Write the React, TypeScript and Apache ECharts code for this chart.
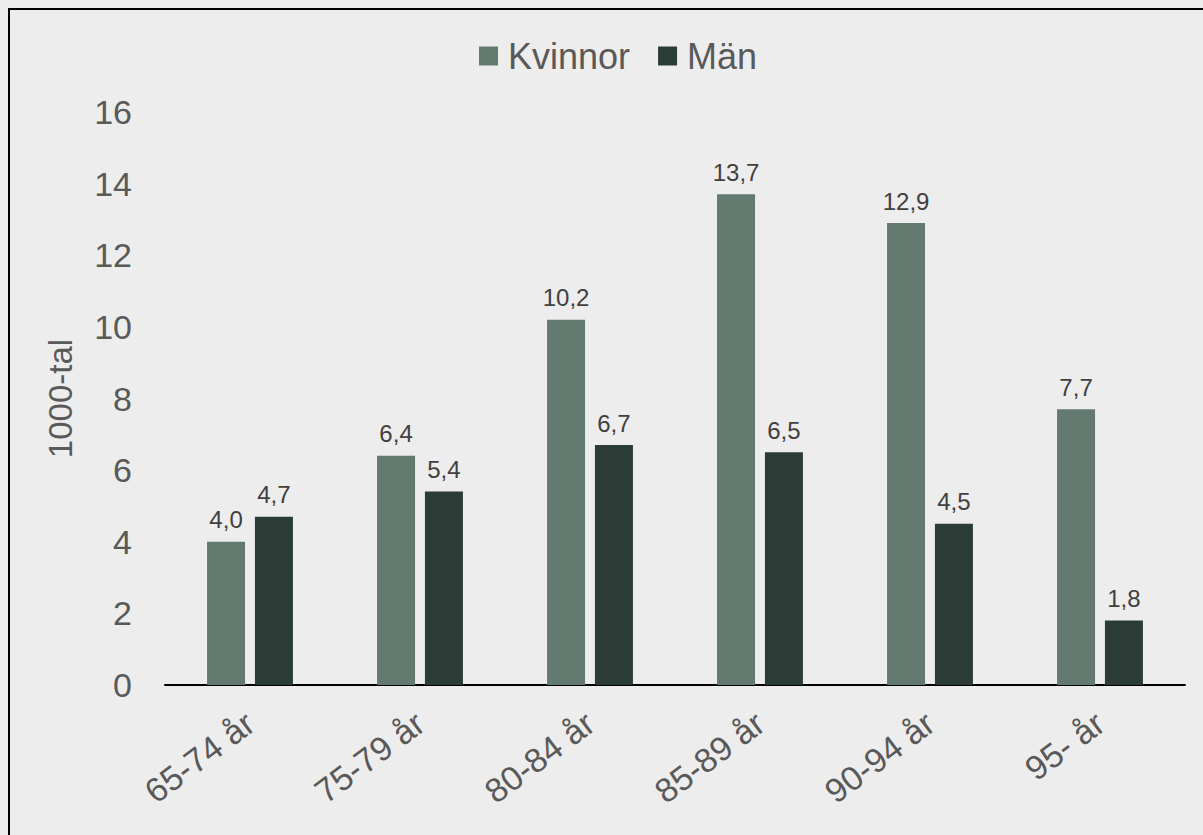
import React, { useEffect, useRef } from "react";
import * as echarts from "echarts";

const categories = ["65-74 år", "75-79 år", "80-84 år", "85-89 år", "90-94 år", "95- år"];
const kvinnor = [4.0, 6.4, 10.2, 13.7, 12.9, 7.7];
const man = [4.7, 5.4, 6.7, 6.5, 4.5, 1.8];
const seriesNames = ["Kvinnor", "Män"];
const yTicks = { min: 0, max: 16, interval: 2 };

const FONT = "Arial, 'Liberation Sans', sans-serif";

export default function App() {
  const ref = useRef<HTMLDivElement>(null);
  useEffect(() => {
    if (!ref.current) return;
    const chart = echarts.init(ref.current, undefined, { renderer: "svg" });
    const fmt = (p: any) => Number(p.value).toFixed(1).replace(".", ",");
    const labelStyle = {
      show: true,
      position: "top",
      distance: 10,
      fontSize: 24,
      color: "#404040",
      formatter: fmt,
      fontFamily: FONT,
    };
    chart.setOption({
      animation: false,
      textStyle: { fontFamily: FONT },
      legend: {
        top: 33,
        left: 474,
        itemWidth: 19,
        itemHeight: 19,
        itemGap: 28,
        icon: "rect",
        textStyle: { fontSize: 36, color: "#595959", fontFamily: FONT, padding: [0, 0, 0, 5] },
        data: seriesNames,
      },
      grid: { left: 165, right: 18, top: 112, bottom: 150, containLabel: false },
      xAxis: {
        type: "category",
        data: categories,
        axisLine: { show: true, lineStyle: { color: "#000", width: 2 } },
        axisTick: { show: false },
        axisLabel: { rotate: 37, fontSize: 34, color: "#595959", margin: 34, fontFamily: FONT },
      },
      yAxis: {
        type: "value",
        min: yTicks.min,
        max: yTicks.max,
        interval: yTicks.interval,
        name: "1000-tal",
        nameLocation: "middle",
        nameGap: 88,
        nameTextStyle: { fontSize: 33, color: "#595959", fontFamily: FONT },
        splitLine: { show: false },
        axisLine: { show: false },
        axisTick: { show: false },
        axisLabel: { fontSize: 34, color: "#595959", margin: 33, fontFamily: FONT },
      },
      series: [
        {
          name: seriesNames[0],
          type: "bar",
          data: kvinnor,
          barWidth: 38,
          barGap: "26%",
          itemStyle: { color: "#627a6f" },
          label: labelStyle,
        },
        {
          name: seriesNames[1],
          type: "bar",
          data: man,
          barWidth: 38,
          barGap: "26%",
          itemStyle: { color: "#2b3b36" },
          label: labelStyle,
        },
      ],
    });
    return () => chart.dispose();
  }, []);
  return (
    <div style={{ position: "fixed", left: 0, top: 0, width: 1203, height: 835, background: "#ededed", overflow: "hidden" }}>
      <div style={{ position: "absolute", left: 8, top: 8, width: 1400, height: 1000, border: "2px solid #000", boxSizing: "border-box" }} />
      <div ref={ref} style={{ position: "absolute", left: 0, top: 0, width: 1203, height: 835 }} />
    </div>
  );
}
